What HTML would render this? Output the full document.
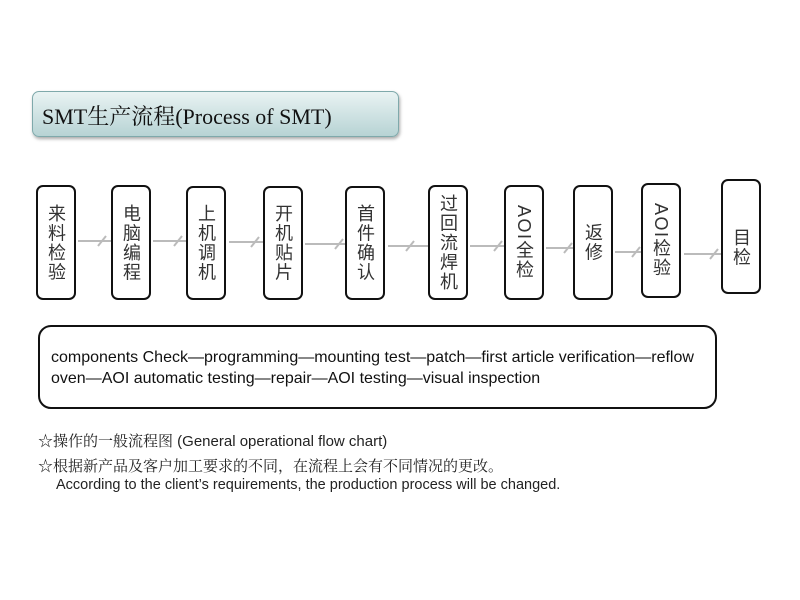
<!DOCTYPE html>
<html><head><meta charset="utf-8"><style>
body{margin:0;width:800px;height:600px;background:#fff;position:relative;overflow:hidden;font-family:"Liberation Sans","Noto Sans CJK SC",sans-serif}
.t{position:absolute;left:32px;top:91px;width:365px;height:44px;border:1px solid #7fa9ab;border-radius:7px;background:linear-gradient(#e9f3f3,#b7d3d4);box-shadow:1px 2px 3px #aaa}
.t span{position:absolute;left:9px;top:8px;font-size:22px;font-family:"Liberation Serif","Noto Serif CJK SC",serif;color:#111;white-space:nowrap}
.b{position:absolute;width:36px;border:2px solid #111;border-radius:7px;background:#fff;writing-mode:vertical-rl;text-orientation:mixed;font-size:18px;line-height:36px;text-align:center;color:#333;font-family:"Liberation Sans","Noto Sans CJK SC",sans-serif;display:flex;align-items:center;justify-content:center;letter-spacing:1.5px}
.big{position:absolute;left:38px;top:325px;width:675px;height:80px;border:2px solid #111;border-radius:13px}
.big div{position:absolute;left:11px;top:20px;font-size:16px;line-height:21px;color:#111;white-space:nowrap}
.n{position:absolute;color:#222;white-space:nowrap}
</style></head><body>
<div class="t"><span>SMT生产流程(Process of SMT)</span></div>
<svg style="position:absolute;left:0;top:0" width="800" height="600">
<g stroke="#bbb" stroke-width="2" fill="none">
<line x1="78" y1="241" x2="112" y2="241"/><line x1="98" y1="246" x2="106" y2="236"/>
<line x1="153" y1="241" x2="187" y2="241"/><line x1="174" y1="246" x2="182" y2="236"/>
<line x1="229" y1="242" x2="264" y2="242"/><line x1="251" y1="247" x2="259" y2="237"/>
<line x1="305" y1="244" x2="346" y2="244"/><line x1="335" y1="249" x2="343" y2="239"/>
<line x1="388" y1="246" x2="429" y2="246"/><line x1="406" y1="251" x2="414" y2="241"/>
<line x1="470" y1="246" x2="505" y2="246"/><line x1="494" y1="251" x2="502" y2="241"/>
<line x1="546" y1="248" x2="574" y2="248"/><line x1="564" y1="253" x2="572" y2="243"/>
<line x1="615" y1="252" x2="642" y2="252"/><line x1="632" y1="257" x2="640" y2="247"/>
<line x1="684" y1="254" x2="722" y2="254"/><line x1="710" y1="259" x2="718" y2="249"/>
</g></svg>
<div class="b" style="left:36px;top:185px;height:111px">来料检验</div>
<div class="b" style="left:111px;top:185px;height:111px">电脑编程</div>
<div class="b" style="left:186px;top:186px;height:110px">上机调机</div>
<div class="b" style="left:263px;top:186px;height:110px">开机贴片</div>
<div class="b" style="left:345px;top:186px;height:110px">首件确认</div>
<div class="b" style="left:428px;top:185px;height:111px">过回流焊机</div>
<div class="b" style="left:504px;top:185px;height:111px">AOI全检</div>
<div class="b" style="left:573px;top:185px;height:111px">返修</div>
<div class="b" style="left:641px;top:183px;height:111px">AOI检验</div>
<div class="b" style="left:721px;top:179px;height:111px;align-items:flex-start"><span style="margin-top:22px">目检</span></div>
<div class="big"><div>components Check—programming—mounting test—patch—first article verification—reflow<br>oven—AOI automatic testing—repair—AOI testing—visual inspection</div></div>
<div class="n" style="left:38px;top:430px;font-size:15px;font-family:'Liberation Sans','Noto Serif CJK SC',sans-serif">☆操作的一般流程图 (General operational flow chart)</div>
<div class="n" style="left:38px;top:455px;font-size:15px;font-family:'Liberation Serif','Noto Serif CJK SC',serif">☆根据新产品及客户加工要求的不同，在流程上会有不同情况的更改。</div>
<div class="n" style="left:56px;top:477px;font-size:14.5px">According to the client’s requirements, the production process will be changed.</div>
</body></html>
